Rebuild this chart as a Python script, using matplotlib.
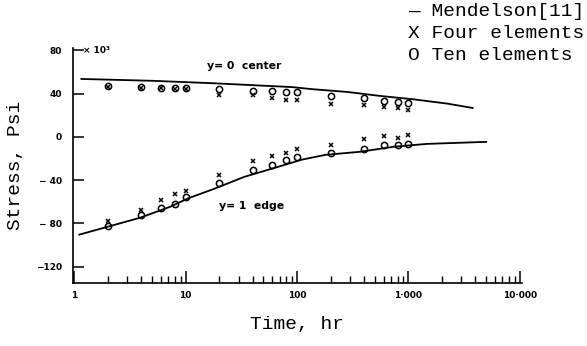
import matplotlib.pyplot as plt
from matplotlib.ticker import FixedLocator, LogLocator, NullFormatter
import numpy as np

# Mendelson curves
t_centro_linha = [1.16, 5, 18, 90, 139, 282, 560, 1109, 2245, 3775]
s_centro_linha = [53.5, 51.8, 49.5, 46.0, 44.0, 41.5, 37.8, 34.7, 30.7, 26.7]
t_borda_linha = [1.11, 2.0, 3.9, 7.3, 10.4, 18, 33.7, 59, 111, 180, 366, 731, 1458, 5000]
s_borda_linha = [-90.3, -83.0, -74.7, -64.5, -57.0, -48.0, -36.9, -29.5, -21.0, -16.6, -13.8, -9.2, -6.5, -4.6]

# points
tempos = [2, 4, 6, 8, 10, 20, 40, 60, 80, 100, 200, 400, 600, 800, 1000]
centro_dez = [47, 46, 45, 45, 45, 44, 42.4, 42, 41.5, 41.5, 37.5, 36, 33.5, 32, 31]
centro_quatro = [46, 45, 45, 44.5, 44.5, 38.5, 38.5, 36, 34, 34, 30.4, 29.5, 27.6, 26.7, 25]
borda_dez = [-82, -72, -66, -62, -56, -43, -31, -26, -21, -18.4, -14.7, -11, -7.4, -7.4, -6.5]
borda_quatro = [-78, -68, -58, -53, -50, -35, -22, -17.5, -14.7, -11, -7.4, -1.8, 0.9, -0.9, 1.8]

y_ticks = [80, 40, 0, -40, -80, -120]
y_labels = ['80', '40', '0', '\u2212 40', '\u2212 80', '\u2212120']
x_ticks = [1, 10, 100, 1000, 10000]
x_labels = ['1', '10', '100', '1\u00b7000', '10\u00b7000']

fonte_tick = dict(family='DejaVu Sans', weight='bold', size=6.5)
mono = 'Liberation Mono'

fig = plt.figure(figsize=(5.87, 3.46), dpi=100)
ax = fig.add_axes([0.124, 0.182, 0.765, 0.679])

ax.plot(t_centro_linha, s_centro_linha, color='black', linewidth=1.3)
ax.plot(t_borda_linha, s_borda_linha, color='black', linewidth=1.3)
ax.plot(tempos, centro_dez, 'o', mfc='none', mec='black', ms=4.5, mew=1.1)
ax.plot(tempos, borda_dez, 'o', mfc='none', mec='black', ms=4.5, mew=1.1)
ax.plot(tempos, centro_quatro, 'x', color='black', ms=3.5, mew=1.1)
ax.plot(tempos, borda_quatro, 'x', color='black', ms=3.5, mew=1.1)

ax.set_xscale('log')
ax.set_xlim(0.97, 10450)
ax.set_ylim(-135, 82)

ax.spines['top'].set_visible(False)
ax.spines['right'].set_visible(False)
ax.spines['left'].set_linewidth(1.2)
ax.spines['bottom'].set_linewidth(1.2)

ax.xaxis.set_major_locator(FixedLocator(x_ticks))
ax.xaxis.set_minor_locator(LogLocator(base=10, subs=np.arange(2, 10)))
ax.xaxis.set_minor_formatter(NullFormatter())
ax.set_xticks(x_ticks)
ax.set_xticklabels(x_labels, **fonte_tick)
ax.set_yticks(y_ticks)
ax.set_yticklabels(y_labels, **fonte_tick)
ax.tick_params(axis='x', which='major', direction='in', length=9, width=1.1, pad=6)
ax.tick_params(axis='x', which='minor', direction='in', length=5, width=1.0)
ax.tick_params(axis='y', which='major', direction='in', length=8, width=1.1, pad=8)

ax.text(1.2, 80, '\u00d7 10\u00b3', fontsize=6.5, weight='bold', va='center', ha='left')
ax.text(15.5, 65, 'y= 0  center', fontsize=7.8, weight='bold', va='center', ha='left')
ax.text(20, -64, 'y= 1  edge', fontsize=7.8, weight='bold', va='center', ha='left')

ax.set_xlabel('Time, hr', family=mono, fontsize=14, labelpad=11)
ax.set_ylabel('Stress, Psi', family=mono, fontsize=14, labelpad=8)

fig.text(408 / 587, 1 - 12 / 346, '\u2014 Mendelson[11]', family=mono, fontsize=14, va='center', ha='left')
fig.text(408 / 587, 1 - 34 / 346, 'X Four elements', family=mono, fontsize=14, va='center', ha='left')
fig.text(408 / 587, 1 - 56 / 346, 'O Ten elements', family=mono, fontsize=14, va='center', ha='left')

plt.savefig('out.png', dpi=100)
